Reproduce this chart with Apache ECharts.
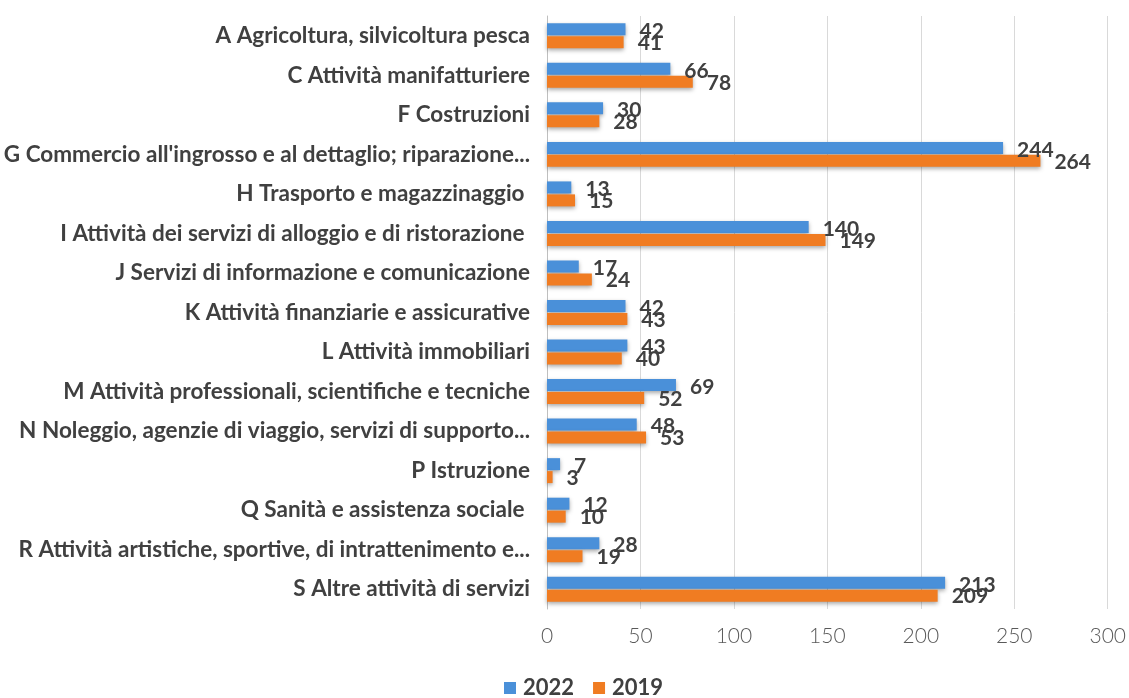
<!DOCTYPE html>
<html>
<head>
<meta charset="utf-8">
<script src="https://cdn.jsdelivr.net/npm/echarts@6/dist/echarts.min.js"></script>
<style>
  html, body { margin: 0; padding: 0; background: #fff; }
  #main { width: 1129px; height: 698px; }
</style>
</head>
<body>
<div id="main"></div>
<script>
// settori (dall'alto in basso)
const categories = [
  'A Agricoltura, silvicoltura pesca',
  'C Attività manifatturiere',
  'F Costruzioni',
  "G Commercio all'ingrosso e al dettaglio; riparazione...",
  'H Trasporto e magazzinaggio ',
  'I Attività dei servizi di alloggio e di ristorazione ',
  'J Servizi di informazione e comunicazione',
  'K Attività finanziarie e assicurative',
  'L Attività immobiliari',
  'M Attività professionali, scientifiche e tecniche',
  'N Noleggio, agenzie di viaggio, servizi di supporto...',
  'P Istruzione',
  'Q Sanità e assistenza sociale ',
  'R Attività artistiche, sportive, di intrattenimento e...',
  'S Altre attività di servizi'
];
const values2022 = [42, 66, 30, 244, 13, 140, 17, 42, 43, 69, 48, 7, 12, 28, 213];
const values2019 = [41, 78, 28, 264, 15, 149, 24, 43, 40, 52, 53, 3, 10, 19, 209];
const xTicks = { min: 0, max: 300, interval: 50 };

const labelStyle = {
  show: true,
  position: 'right',
  distance: 14,
  color: '#404040',
  fontFamily: 'Lato',
  fontWeight: 'bold',
  fontSize: 21
};
const barShadow = {
  shadowBlur: 4,
  shadowOffsetY: 2,
  shadowColor: 'rgba(0,0,0,0.35)'
};

const chart = echarts.init(document.getElementById('main'));
chart.setOption({
  animation: false,
  grid: { left: 547, right: 21, top: 16, bottom: 89, containLabel: false },
  legend: {
    top: 677,
    left: 504,
    padding: 0,
    itemWidth: 12,
    itemHeight: 12,
    itemGap: 19,
    icon: 'rect',
    textStyle: { color: '#404040', fontFamily: 'Lato', fontWeight: 'bold', fontSize: 22, padding: [0, 0, 0, 2] },
    data: ['2022', '2019']
  },
  xAxis: {
    type: 'value',
    min: xTicks.min,
    max: xTicks.max,
    interval: xTicks.interval,
    axisLine: { show: false },
    axisTick: { show: false },
    splitLine: { lineStyle: { color: '#d9d9d9', width: 1 } },
    axisLabel: { color: '#595959', fontFamily: 'Lato', fontWeight: 300, fontSize: 21, margin: 17 }
  },
  yAxis: {
    type: 'category',
    inverse: true,
    data: categories,
    axisLine: { lineStyle: { color: '#bfbfbf' } },
    axisTick: { show: false },
    axisLabel: { color: '#404040', fontFamily: 'Lato', fontWeight: 'bold', fontSize: 22.5, margin: 17 }
  },
  series: [
    {
      name: '2022',
      type: 'bar',
      data: values2022,
      barWidth: 12,
      barGap: '8%',
      itemStyle: Object.assign({ color: '#4a90d9' }, barShadow),
      label: Object.assign({ offset: [0, 2] }, labelStyle)
    },
    {
      name: '2019',
      type: 'bar',
      data: values2019,
      barWidth: 12,
      itemStyle: Object.assign({ color: '#f07c22' }, barShadow),
      label: Object.assign({ offset: [0, 1] }, labelStyle)
    }
  ]
});
</script>
</body>
</html>
